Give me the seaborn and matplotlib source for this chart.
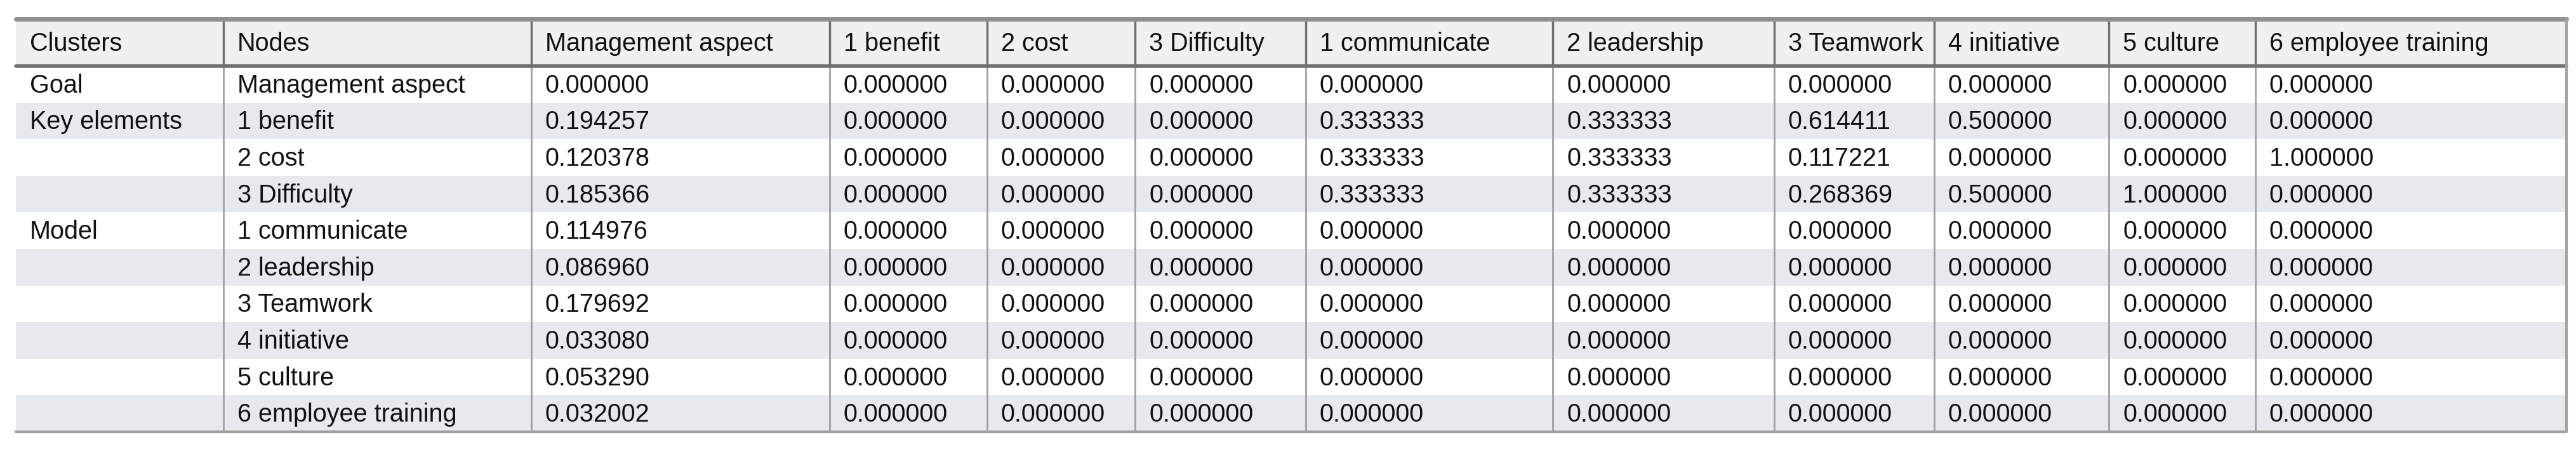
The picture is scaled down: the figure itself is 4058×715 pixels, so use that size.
import matplotlib
matplotlib.use("Agg")
import matplotlib.pyplot as plt
import seaborn as sns

sns.set_style("white")
plt.rcParams['font.family'] = ['Liberation Sans Narrow', 'Liberation Sans', 'DejaVu Sans']

headers = ["Clusters", "Nodes", "Management aspect", "1 benefit", "2 cost", "3 Difficulty",
           "1 communicate", "2 leadership", "3 Teamwork", "4 initiative", "5 culture",
           "6 employee training"]
clusters = ["Goal", "Key elements", "", "", "Model", "", "", "", "", ""]
nodes = ["Management aspect", "1 benefit", "2 cost", "3 Difficulty", "1 communicate",
         "2 leadership", "3 Teamwork", "4 initiative", "5 culture", "6 employee training"]
management = [0.0, 0.194257, 0.120378, 0.185366, 0.114976, 0.086960, 0.179692, 0.033080, 0.053290, 0.032002]
col_benefit = [0.0] * 10
col_cost = [0.0] * 10
col_difficulty = [0.0] * 10
col_communicate = [0.0, 0.333333, 0.333333, 0.333333, 0, 0, 0, 0, 0, 0]
col_leadership = [0.0, 0.333333, 0.333333, 0.333333, 0, 0, 0, 0, 0, 0]
col_teamwork = [0.0, 0.614411, 0.117221, 0.268369, 0, 0, 0, 0, 0, 0]
col_initiative = [0.0, 0.5, 0.0, 0.5, 0, 0, 0, 0, 0, 0]
col_culture = [0.0, 0.0, 0.0, 1.0, 0, 0, 0, 0, 0, 0]
col_training = [0.0, 0.0, 1.0, 0.0, 0, 0, 0, 0, 0, 0]
value_cols = [management, col_benefit, col_cost, col_difficulty, col_communicate,
              col_leadership, col_teamwork, col_initiative, col_culture, col_training]

# layout in pixels
edges = [25, 352, 837, 1307, 1555, 1788, 2057, 2446, 2795, 3047, 3322, 3553, 4043]
top, head_bot, row_h = 30, 104, 57.6
bottom = head_bot + row_h * len(nodes)

fig = plt.figure(figsize=(40.58, 7.15), dpi=100)
ax = fig.add_axes([0, 0, 1, 1])
ax.set_xlim(0, 4058)
ax.set_ylim(715, 0)
ax.axis("off")

ax.fill_between([edges[0], edges[-1]], top, head_bot, color="#f0f0f0", lw=0)
for i in range(len(nodes)):
    y0 = head_bot + i * row_h
    if i % 2 == 1:
        ax.fill_between([edges[0], edges[-1]], y0, y0 + row_h, color="#e6e9ee", lw=0)

fs = 28.5
for j, h in enumerate(headers):
    ax.text(edges[j] + 22, (top + head_bot) / 2 + 2, h, fontsize=fs, va="center", color="#111")

for i in range(len(nodes)):
    yc = head_bot + (i + 0.5) * row_h + 2
    ax.text(edges[0] + 22, yc, clusters[i], fontsize=fs, va="center", color="#111")
    ax.text(edges[1] + 22, yc, nodes[i], fontsize=fs, va="center", color="#111")
    for j, col in enumerate(value_cols):
        ax.text(edges[j + 2] + 22, yc, f"{col[i]:.6f}", fontsize=fs, va="center", color="#111")

# grid lines
for x in edges[1:-1]:
    ax.plot([x, x], [top, head_bot], color="#707070", lw=2.5)
    ax.plot([x, x], [head_bot, bottom], color="#a0a0a0", lw=2)
ax.plot([edges[0], edges[-1]], [top, top], color="#909090", lw=5)
ax.plot([edges[0], edges[-1]], [head_bot, head_bot], color="#707070", lw=4)
ax.plot([edges[0], edges[-1]], [bottom, bottom], color="#a0a0a0", lw=3)
ax.plot([edges[-1], edges[-1]], [top, bottom], color="#a0a0a0", lw=3)

fig.savefig("out.png", dpi=100)
